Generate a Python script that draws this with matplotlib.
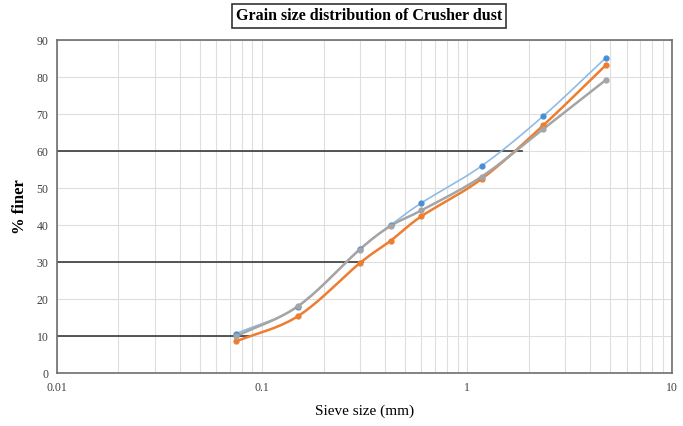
import numpy as np
import matplotlib
matplotlib.use('Agg')
import matplotlib.pyplot as plt

# sieve sizes (mm) and % finer for the three samples
sieve = [0.075, 0.15, 0.3, 0.425, 0.6, 1.18, 2.36, 4.75]
sample_1 = [10.7, 18.0, 33.5, 40.0, 46.0, 56.0, 69.5, 85.2]
sample_2 = [8.6, 15.4, 29.7, 35.8, 42.4, 52.5, 67.0, 83.2]
sample_3 = [10.0, 18.1, 33.4, 39.8, 44.0, 53.1, 66.0, 79.2]

# D10 / D30 / D60 reference lines: (% finer, size where line stops)
ref_pct = [10, 30, 60]
ref_size = [0.089, 0.31, 1.85]

plt.rcParams['font.family'] = ['Liberation Serif', 'DejaVu Serif']


def smooth(x, y, n=20):
    # catmull-rom through the points, in log-x space
    lx = np.log10(x)
    px = np.concatenate([[2 * lx[0] - lx[1]], lx, [2 * lx[-1] - lx[-2]]])
    py = np.concatenate([[2 * y[0] - y[1]], y, [2 * y[-1] - y[-2]]])
    xs, ys = [], []
    t = np.linspace(0, 1, n)
    for i in range(1, len(px) - 2):
        for p, out in ((px, xs), (py, ys)):
            p0, p1, p2, p3 = p[i - 1], p[i], p[i + 1], p[i + 2]
            out.extend(0.5 * (2 * p1 + (-p0 + p2) * t + (2 * p0 - 5 * p1 + 4 * p2 - p3) * t ** 2
                              + (-p0 + 3 * p1 - 3 * p2 + p3) * t ** 3))
    return 10 ** np.array(xs), np.array(ys)


fig = plt.figure(figsize=(6.83, 4.26), dpi=100)
ax = fig.add_axes([0.083, 0.124, 0.901, 0.782])

ax.set_xscale('log')
ax.set_xlim(0.01, 10)
ax.set_ylim(0, 90)
ax.set_yticks(range(0, 91, 10))
ax.set_xticks([0.01, 0.1, 1, 10])
ax.set_xticklabels(['0.01', '0.1', '1', '10'])
ax.grid(True, which='both', axis='x', color='#dedede', lw=0.8)
ax.grid(True, which='major', axis='y', color='#dedede', lw=0.8)
ax.tick_params(which='both', length=0, labelsize=8.5, colors='#404040', pad=6)
ax.set_axisbelow(True)
for s in ax.spines.values():
    s.set_color('#6e6e6e')
    s.set_linewidth(1.2)

for pct, size in zip(ref_pct, ref_size):
    ax.plot([0.01, size], [pct, pct], color='#3a3a3a', lw=1.2, zorder=2)

series = [(sample_1, '#8fbbe6', '#4a8fd6', 1.2),
          (sample_2, '#ed7d31', '#ed7d31', 1.8),
          (sample_3, '#a5a5a5', '#a5a5a5', 1.8)]
for vals, lc, mc, lw in series:
    sx, sy = smooth(np.array(sieve), np.array(vals))
    ax.plot(sx, sy, color=lc, lw=lw, zorder=3)
    ax.plot(sieve, vals, 'o', color=mc, ms=3.5, zorder=4)

ax.set_xlabel('Sieve size (mm)', fontsize=11, labelpad=8)
ax.set_ylabel('% finer', fontsize=12, fontweight='bold', labelpad=6)
fig.text(0.54, 0.962, 'Grain size distribution of Crusher dust', ha='center', va='center',
         fontsize=11.5, fontweight='bold',
         bbox=dict(boxstyle='square,pad=0.25', fc='white', ec='#333333', lw=1.2))

fig.savefig('out.png', dpi=100)
